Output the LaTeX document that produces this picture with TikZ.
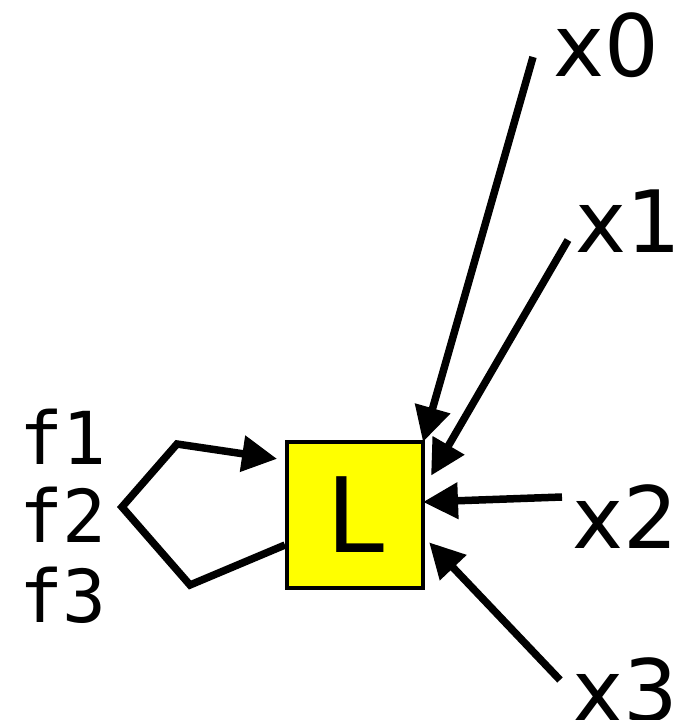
\documentclass[tikz,border=0pt]{standalone}
\usepackage{fontspec}
\setmainfont{DejaVu Sans}
\setmonofont{DejaVu Sans Mono}
\usetikzlibrary{arrows.meta}
\definecolor{lampyellow}{HTML}{FFFF00}

\begin{document}
\begin{tikzpicture}[x=1pt, y=-1pt,
  feed/.style={line width=7.5pt, -{Triangle[length=35pt,width=35pt]}},
  inlabel/.style={inner sep=0pt, font=\fontsize{86}{86}\selectfont},
  flabel/.style={inner sep=0pt, font=\ttfamily\fontsize{73}{73}\selectfont}]
\useasboundingbox (0,0) rectangle (678,720);
\node[draw=black, line width=4pt, fill=lampyellow, minimum width=136pt, minimum height=146pt, inner sep=0pt, font=\fontsize{104}{104}\selectfont] (L) at (355,515) {L};
% inputs on the right
\node[inlabel] (x0) at (606,45) {x0};
\node[inlabel] (x1) at (628,221) {x1};
\node[inlabel] (x2) at (625,517) {x2};
\node[inlabel] (x3) at (625,690) {x3};
% feedback labels on the left
\node[flabel] (f1) at (63,437) {f1};
\node[flabel] (f2) at (63,515) {f2};
\node[flabel] (f3) at (63,595) {f3};
\coordinate (t0) at (533,57);
\coordinate (t1) at (568,240);
\coordinate (t2) at (562,497);
\coordinate (t3) at (560,680);
\coordinate (b1) at (190,585);
\coordinate (b2) at (122,507);
\coordinate (b3) at (177,444);
\draw[feed] (t0) -- ([xshift=-2pt,yshift=-2pt]L.north east);
\draw[feed, shorten >=12pt] (t1) -- ([yshift=29pt]L.east);
\draw[feed] (t2) -- ([xshift=-2pt,yshift=13pt]L.east);
\draw[feed, shorten >=6pt] (t3) -- ([yshift=-23pt]L.east);
\draw[feed, shorten >=8pt] ([yshift=-30pt]L.west) -- (b1) -- (b2) -- (b3) -- ([yshift=55pt]L.west);
\end{tikzpicture}
\end{document}
